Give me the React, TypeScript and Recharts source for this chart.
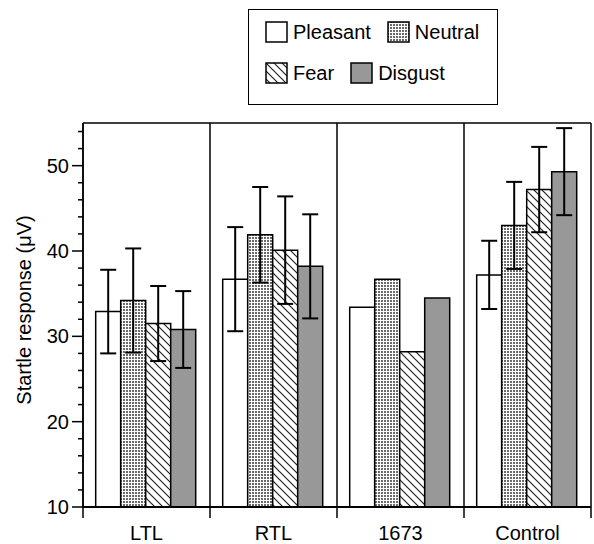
import { BarChart, Bar, XAxis, YAxis, ErrorBar, ReferenceLine, Legend } from "recharts";

const categories = ["LTL", "RTL", "1673", "Control"];
const pleasant = [32.9, 36.7, 33.4, 37.2];
const pleasantErr = [4.9, 6.1, null, 4.0];
const neutral = [34.2, 41.9, 36.7, 43.0];
const neutralErr = [6.1, 5.6, null, 5.1];
const fear = [31.5, 40.1, 28.2, 47.2];
const fearErr = [4.4, 6.3, null, 5.0];
const disgust = [30.8, 38.2, 34.5, 49.3];
const disgustErr = [4.5, 6.1, null, 5.1];
const yTicks = [10, 12, 14, 16, 18, 20, 22, 24, 26, 28, 30, 32, 34, 36, 38, 40, 42, 44, 46, 48, 50, 52, 54];

const data = categories.map((name, i) => ({
  name,
  pleasant: pleasant[i],
  pleasantErr: pleasantErr[i],
  neutral: neutral[i],
  neutralErr: neutralErr[i],
  fear: fear[i],
  fearErr: fearErr[i],
  disgust: disgust[i],
  disgustErr: disgustErr[i],
}));

// group separators: the left edge of the first group and the right edge of every group
const dividers = [
  { cat: categories[0], pos: "start" },
  ...categories.map((cat) => ({ cat, pos: "end" })),
];

const FONT = '"Liberation Sans", Arial, Helvetica, sans-serif';

const series = [
  { key: "pleasant", label: "Pleasant", fill: "#ffffff" },
  { key: "neutral", label: "Neutral", fill: "url(#dots)" },
  { key: "fear", label: "Fear", fill: "url(#hatch)" },
  { key: "disgust", label: "Disgust", fill: "#989898" },
];

const YTick = ({ x, y, payload }: any) => {
  const major = payload.value % 10 === 0;
  return (
    <g>
      <line x1={x - (major ? 11 : 5)} x2={x} y1={y} y2={y} stroke="#000" strokeWidth={1.5} />
      {major && (
        <text x={x - 14} y={y} dy="0.35em" textAnchor="end" fontSize={20} fontFamily={FONT} fill="#000">
          {payload.value}
        </text>
      )}
    </g>
  );
};

const Swatch = ({ fill }: { fill: string }) => (
  <svg width={23} height={22} style={{ display: "block" }}>
    <rect x={1} y={1} width={21} height={20} fill={fill} stroke="#000" strokeWidth={1.5} />
  </svg>
);

const LegendBox = () => {
  const item = (s: any) => (
    <div key={s.key} style={{ display: "flex", alignItems: "center", gap: 5 }}>
      <Swatch fill={s.fill} />
      <span>{s.label}</span>
    </div>
  );
  return (
    <div
      style={{
        boxSizing: "border-box",
        width: 250,
        height: 96,
        border: "1.5px solid #000",
        padding: "11px 0 0 16px",
        fontFamily: FONT,
        fontSize: 20,
        color: "#000",
        background: "#fff",
      }}
    >
      <div style={{ display: "flex", gap: 16, height: 22, lineHeight: "22px" }}>{series.slice(0, 2).map(item)}</div>
      <div style={{ display: "flex", gap: 16, height: 22, lineHeight: "22px", marginTop: 19 }}>
        {series.slice(2).map(item)}
      </div>
    </div>
  );
};

export default function App() {
  return (
    <div style={{ position: "absolute", left: 0, top: 0, background: "#fff" }}>
      <BarChart
        width={594}
        height={544}
        data={data}
        margin={{ top: 123, right: 3, left: 0, bottom: 0 }}
        barCategoryGap="10%"
        barGap={0}
        style={{ fontFamily: FONT }}
      >
        <defs>
          <pattern id="dots" width={3} height={3} patternUnits="userSpaceOnUse">
            <rect width={3} height={3} fill="#ffffff" />
            <rect width={2} height={2} fill="#6a6a6a" />
          </pattern>
          <pattern id="hatch" width={8} height={8} patternUnits="userSpaceOnUse">
            <rect width={8} height={8} fill="#ffffff" />
            <path d="M0,0 L8,8 M-2,6 L2,10 M6,-2 L10,2" stroke="#222" strokeWidth={1.2} />
          </pattern>
        </defs>
        <XAxis
          dataKey="name"
          height={37}
          tickLine={false}
          tickSize={0}
          tickMargin={19}
          axisLine={{ stroke: "#000", strokeWidth: 1.8 }}
          tick={{ fill: "#000", fontSize: 20, fontFamily: FONT }}
        />
        <YAxis
          width={83}
          domain={[10, 55]}
          ticks={yTicks}
          interval={0}
          tickLine={false}
          tickSize={0}
          tickMargin={0}
          axisLine={{ stroke: "#000", strokeWidth: 1.5 }}
          tick={<YTick />}
          allowDataOverflow
          label={{
            content: () => (
              <text
                x={24}
                y={310}
                transform="rotate(-90 24 310)"
                textAnchor="middle"
                dominantBaseline="central"
                fontSize={20}
                fontFamily={FONT}
                fill="#000"
              >
                Startle response (μV)
              </text>
            ),
          }}
        />
        <Legend
          layout="horizontal"
          verticalAlign="middle"
          align="center"
          content={<LegendBox />}
          wrapperStyle={{ left: 248, top: 9, width: 250, height: 96 }}
        />
        {series.map((s) => (
          <Bar
            key={s.key}
            dataKey={s.key}
            fill={s.fill}
            stroke="#000"
            strokeWidth={1.5}
            isAnimationActive={false}
          >
            <ErrorBar dataKey={`${s.key}Err`} width={8} strokeWidth={2} stroke="#000" />
          </Bar>
        ))}
        <ReferenceLine y={55} stroke="#000" strokeWidth={1.5} ifOverflow="visible" />
        {dividers.map((d) => (
          <ReferenceLine
            key={d.cat + d.pos}
            position={d.pos as any}
            segment={[
              { x: d.cat, y: 55 },
              { x: d.cat, y: 8.7 },
            ]}
            stroke="#000"
            strokeWidth={1.5}
            ifOverflow="visible"
          />
        ))}
      </BarChart>
    </div>
  );
}
